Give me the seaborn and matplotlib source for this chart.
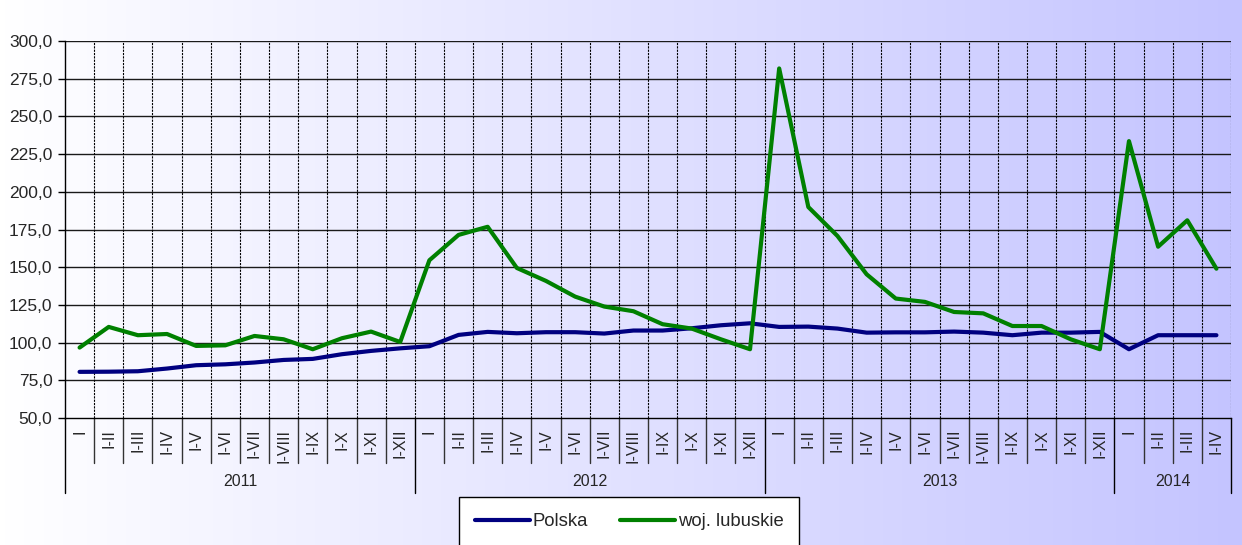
import numpy as np
import pandas as pd
import matplotlib
matplotlib.use("Agg")
import matplotlib.pyplot as plt
import matplotlib.transforms as mtransforms
from matplotlib.lines import Line2D
import seaborn as sns

# --- dane ---
years = ["2011", "2012", "2013", "2014"]
months_per_year = [12, 12, 12, 4]
period_labels = ["I", "I-II", "I-III", "I-IV", "I-V", "I-VI", "I-VII", "I-VIII",
                 "I-IX", "I-X", "I-XI", "I-XII"]

polska = [80.6, 80.7, 81.0, 82.8, 85.0, 85.6, 86.8, 88.5, 89.2, 92.3, 94.5, 96.2,
          97.6, 105.1, 107.1, 106.2, 106.9, 106.9, 106.0, 108.0, 108.0, 109.5, 111.5, 112.8,
          110.4, 110.6, 109.3, 106.6, 106.8, 106.8, 107.3, 106.6, 104.9, 106.6, 106.6, 107.1,
          95.6, 104.9, 104.9, 104.9]
lubuskie = [96.7, 110.4, 104.9, 105.7, 97.8, 98.2, 104.4, 102.2, 95.6, 102.9, 107.3, 100.4,
            154.6, 171.4, 176.8, 149.5, 140.9, 130.5, 123.9, 120.8, 112.2, 109.3, 102.2, 95.6,
            281.8, 189.9, 170.7, 145.3, 129.2, 127.0, 120.3, 119.4, 111.0, 111.0, 102.2, 95.6,
            233.6, 163.6, 181.1, 149.0]

series_names = ["Polska", "woj. lubuskie"]
colors = {"Polska": "#000080", "woj. lubuskie": "#008000"}

tick_labels = []
for n in months_per_year:
    tick_labels += period_labels[:n]
n_pts = len(tick_labels)

df = pd.DataFrame({
    "idx": list(range(n_pts)) * 2,
    "value": polska + lubuskie,
    "series": [series_names[0]] * n_pts + [series_names[1]] * n_pts,
})

sns.set_style("ticks")
plt.rcParams["font.family"] = ["Liberation Sans", "DejaVu Sans"]

fig = plt.figure(figsize=(12.42, 5.45), dpi=100)

# tło z gradientem
bg = fig.add_axes([0, 0, 1, 1], zorder=-10)
grad = np.linspace(0, 1, 256)
c0 = np.array([255, 255, 255]) / 255
c1 = np.array([196, 196, 255]) / 255
img = c0[None, None, :] * (1 - grad[None, :, None]) + c1[None, None, :] * grad[None, :, None]
bg.imshow(img, aspect="auto", extent=[0, 1, 0, 1])
bg.axis("off")

ax = fig.add_axes([65 / 1242, 1 - 418 / 545, (1231 - 65) / 1242, (418 - 41) / 545])
ax.set_facecolor("none")

sns.lineplot(data=df, x="idx", y="value", hue="series", palette=colors,
             linewidth=3.0, ax=ax, legend=False, zorder=5)

ax.set_xlim(-0.5, n_pts - 0.5)
ax.set_ylim(50, 300)
ax.set_yticks(np.arange(50, 301, 25))
ax.set_yticklabels([f"{v:.1f}".replace(".", ",") for v in np.arange(50, 301, 25)], fontsize=12.5)
ax.tick_params(axis="y", length=5, width=1, color="black", pad=4)
ax.set_xticks([])
ax.set_xlabel("")
ax.set_ylabel("")

# siatka pozioma
for v in np.arange(75, 301, 25):
    ax.axhline(v, color="#1a1a1a", lw=1, zorder=1)
# siatka pionowa (przerywana)
for b in np.arange(0.5, n_pts, 1):
    ax.axvline(b, color="black", lw=0.8, linestyle=(0, (2, 1)), zorder=1)

for s in ["top", "right"]:
    ax.spines[s].set_visible(False)
ax.spines["left"].set_color("black")
ax.spines["bottom"].set_color("black")
ax.spines["left"].set_linewidth(1)
ax.spines["bottom"].set_linewidth(1)

# etykiety okresów i lat pod osią
trans = mtransforms.blended_transform_factory(ax.transData, ax.transAxes)
h_px = 418 - 41
sep_short = -45 / h_px
sep_long = -75 / h_px

for i, lab in enumerate(tick_labels):
    ax.text(i, -11 / h_px, lab, rotation=90, ha="center", va="top",
            fontsize=11.5, transform=trans)

year_starts = np.cumsum([0] + months_per_year)
for b in range(n_pts + 1):
    x = b - 0.5
    y_end = sep_long if b in year_starts else sep_short
    ax.plot([x, x], [0, y_end], color="#333333" if b not in year_starts else "black",
            lw=1, transform=trans, clip_on=False)

for k, yr in enumerate(years):
    xc = (year_starts[k] + year_starts[k + 1]) / 2 - 0.5
    ax.text(xc, -64 / h_px, yr, ha="center", va="center", fontsize=11.5, transform=trans)

# legenda
handles = [Line2D([0], [0], color=colors[n], lw=3) for n in series_names]
leg = fig.legend(handles, series_names, loc="center", bbox_to_anchor=(629 / 1242, 1 - 521.5 / 545),
                 ncol=2, fontsize=13.3, frameon=True, fancybox=False, handlelength=3.0,
                 handletextpad=0.15, columnspacing=1.7, borderpad=0.85)
leg.get_frame().set_edgecolor("black")
leg.get_frame().set_facecolor("white")
leg.get_frame().set_alpha(1)
leg.get_frame().set_linewidth(1)

fig.savefig("out.png", dpi=100)
